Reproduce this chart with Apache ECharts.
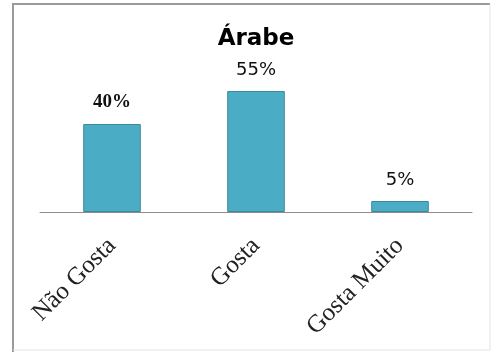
<!DOCTYPE html>
<html>
<head>
<meta charset="utf-8">
<script src="https://cdn.jsdelivr.net/npm/echarts@6/dist/echarts.min.js"></script>
<style>
  html, body { margin: 0; padding: 0; background: #fff; }
  #chart { width: 492px; height: 354px; }
</style>
</head>
<body>
<div id="chart"></div>
<script>
// Preference shares for Arabic cuisine
const categories = ['Não Gosta', 'Gosta', 'Gosta Muito'];
const shares = [40, 55, 5];
const shareLabels = ['40%', '55%', '5%'];

const chart = echarts.init(document.getElementById('chart'), null, { renderer: 'canvas' });

const labelFonts = [
  { fontFamily: '"Liberation Serif", serif', fontWeight: 'bold', fontSize: 19 },
  { fontFamily: '"DejaVu Sans", sans-serif', fontWeight: 'normal', fontSize: 18 },
  { fontFamily: '"DejaVu Sans", sans-serif', fontWeight: 'normal', fontSize: 18 }
];

chart.setOption({
  animation: false,
  backgroundColor: '#ffffff',
  title: {
    text: 'Árabe',
    left: 251,
    textAlign: 'center',
    top: 23,
    textStyle: {
      fontFamily: '"DejaVu Sans", sans-serif',
      fontWeight: 'bold',
      fontSize: 23,
      color: '#000'
    }
  },
  graphic: [
    {
      type: 'polyline',
      shape: { points: [[13, 352], [13, 4], [490, 4]] },
      style: { stroke: '#9a9a9a', lineWidth: 2, fill: null }
    },
    {
      type: 'polyline',
      shape: { points: [[490, 4], [490, 350], [13, 350]] },
      style: { stroke: '#e4e4e4', lineWidth: 1, fill: null }
    }
  ],
  grid: { left: 40, right: 20, top: 36, bottom: 142, containLabel: false },
  xAxis: {
    type: 'category',
    data: categories,
    axisLine: { show: true, lineStyle: { color: '#8c8c8c', width: 1 } },
    axisTick: { show: false },
    axisLabel: {
      rotate: 45,
      margin: 30,
      interval: 0,
      fontFamily: '"Liberation Serif", "Times New Roman", serif',
      fontSize: 25,
      color: '#222'
    }
  },
  yAxis: {
    type: 'value',
    min: 0,
    max: 80,
    show: false,
    splitLine: { show: false }
  },
  series: [{
    type: 'bar',
    barWidth: '40%',
    data: shares.map((v, i) => ({
      value: v,
      label: {
        show: true,
        position: 'top',
        distance: 12,
        formatter: shareLabels[i],
        color: '#111',
        ...labelFonts[i]
      }
    })),
    itemStyle: {
      color: '#4bacc6',
      borderColor: '#3b8aa0',
      borderWidth: 1
    }
  }]
});
</script>
</body>
</html>
